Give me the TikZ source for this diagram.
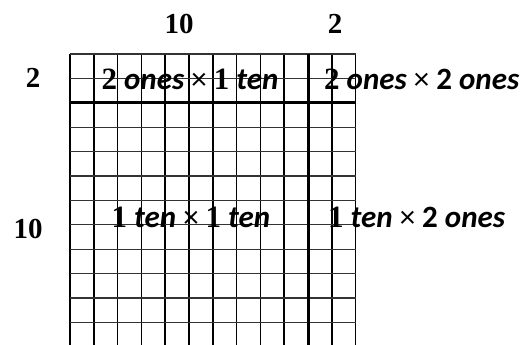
\documentclass[tikz,border=0pt]{standalone}
\usepackage{fontspec}
\setmainfont{Liberation Serif}
\newfontfamily\calfont{Carlito}
\usetikzlibrary{positioning}

\begin{document}
\begin{tikzpicture}[x=1pt, y=-1pt,
		cell/.style={line width=1.5pt, black},
		row/.style={line width=1.3pt, black!80},
		split/.style={line width=3pt, black},
		dim/.style={font=\bfseries\fontsize{29}{29}\selectfont, inner sep=0pt},
		part/.style={font=\calfont\bfseries\fontsize{31}{31}\selectfont, inner sep=0pt}]
		\useasboundingbox (0,0) rectangle (525,345);
		\foreach \i in {0,...,12}
			\draw[cell] (70+23.8*\i,54) -- (70+23.8*\i,345);
		\foreach \j in {0,...,11}
			\draw[row] (70,54+24.4*\j) -- (355.6,54+24.4*\j);
		\draw[split] (70,102.8) -- (355.6,102.8);
		\draw[split] (308,54) -- (308,345);
		\node[dim] (top10) at (179,24) {10};
		\node[dim] (top2) at (335,24) {2};
		\node[dim] (left2) at (33,78) {2};
		\node[dim] (left10) at (28,229) {10};
		\node[part] (onesten) at (190,79)
			{{\rmfamily 2} \textit{ones} {\mdseries ×} {\rmfamily 1} \textit{ten}};
		\node[part, anchor=west] (onesones) at (324,79)
			{{\rmfamily 2} \textit{ones} {\mdseries ×} 2 \textit{ones}};
		\node[part] (tenten) at (191,217)
			{{\rmfamily 1} \textit{ten} {\mdseries ×} {\rmfamily 1} \textit{ten}};
		\node[part, anchor=west] (tenones) at (328,217)
			{{\rmfamily 1} \textit{ten} {\mdseries ×} 2 \textit{ones}};
	\end{tikzpicture}
\end{document}
